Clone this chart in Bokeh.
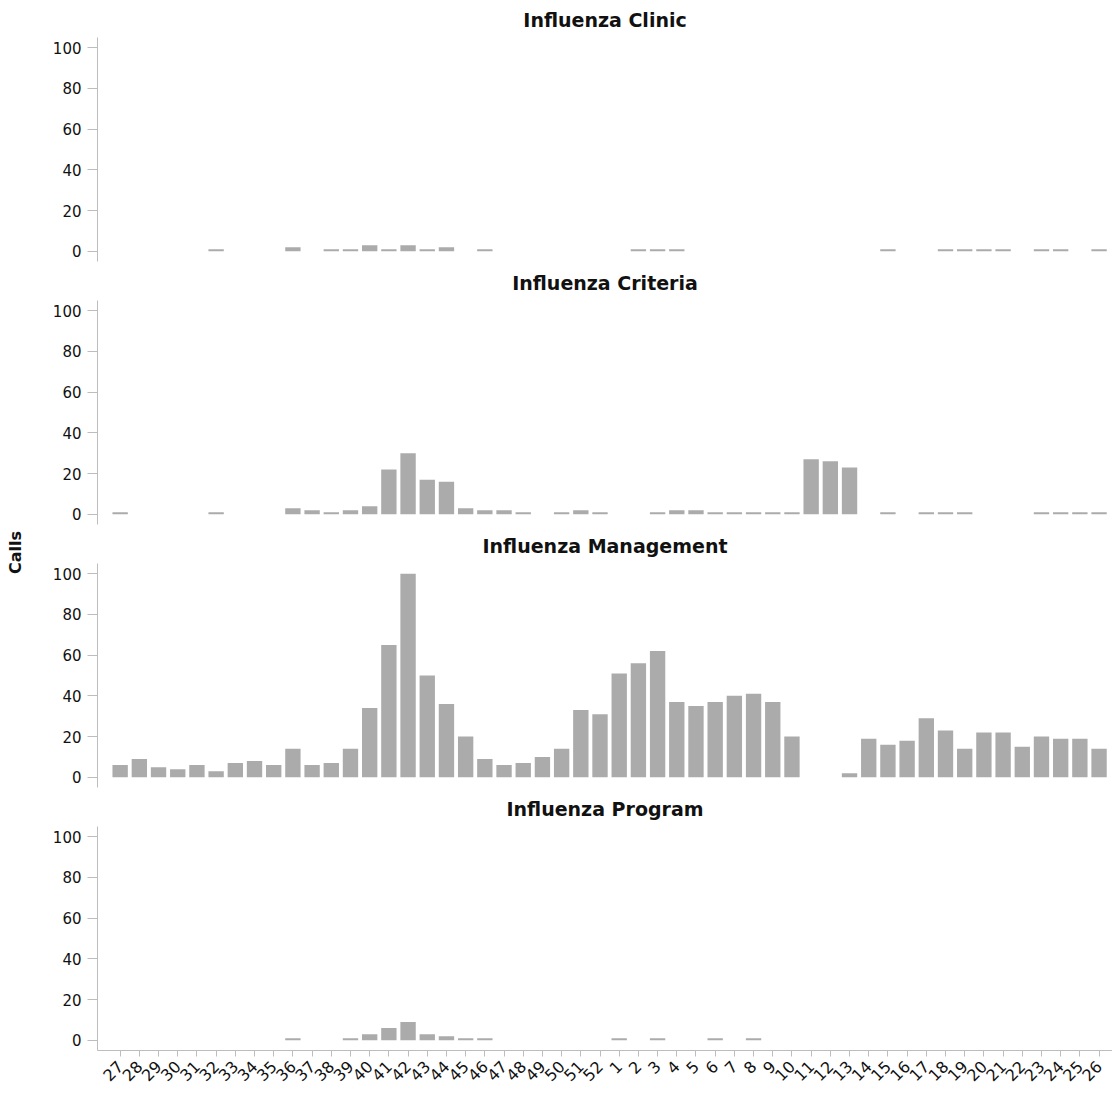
from math import pi
from bokeh.plotting import figure
from bokeh.layouts import row, column
from bokeh.models import Range1d, FixedTicker, Label
from bokeh.embed import file_html
from bokeh.resources import INLINE

# ---- data -------------------------------------------------------------
weeks = ["27", "28", "29", "30", "31", "32", "33", "34", "35", "36", "37", "38", "39",
         "40", "41", "42", "43", "44", "45", "46", "47", "48", "49", "50", "51", "52",
         "1", "2", "3", "4", "5", "6", "7", "8", "9", "10", "11", "12", "13",
         "14", "15", "16", "17", "18", "19", "20", "21", "22", "23", "24", "25", "26"]

clinic = [0, 0, 0, 0, 0, 1, 0, 0, 0, 2, 0, 1, 1, 3, 1, 3, 1, 2, 0, 1, 0, 0, 0, 0, 0, 0,
          0, 1, 1, 1, 0, 0, 0, 0, 0, 0, 0, 0, 0, 0, 1, 0, 0, 1, 1, 1, 1, 0, 1, 1, 0, 1]

criteria = [1, 0, 0, 0, 0, 1, 0, 0, 0, 3, 2, 1, 2, 4, 22, 30, 17, 16, 3, 2, 2, 1, 0, 1, 2, 1,
            0, 0, 1, 2, 2, 1, 1, 1, 1, 1, 27, 26, 23, 0, 1, 0, 1, 1, 1, 0, 0, 0, 1, 1, 1, 1]

management = [6, 9, 5, 4, 6, 3, 7, 8, 6, 14, 6, 7, 14, 34, 65, 100, 50, 36, 20, 9, 6, 7, 10, 14, 33, 31,
              51, 56, 62, 37, 35, 37, 40, 41, 37, 20, 0, 0, 2, 19, 16, 18, 29, 23, 14, 22, 22, 15, 20, 19, 19, 14]

program = [0, 0, 0, 0, 0, 0, 0, 0, 0, 1, 0, 0, 1, 3, 6, 9, 3, 2, 1, 1, 0, 0, 0, 0, 0, 0,
           1, 0, 1, 0, 0, 1, 0, 1, 0, 0, 0, 0, 0, 0, 0, 0, 0, 0, 0, 0, 0, 0, 0, 0, 0, 0]

panel_titles = ["Influenza Clinic", "Influenza Criteria", "Influenza Management", "Influenza Program"]
y_ticks = [0, 20, 40, 60, 80, 100]
y_title = "Calls"

# ---- style --------------------------------------------------------------
FONT = "DejaVu Sans"
BAR = "#ababab"
AXIS = "#bdbdbd"
TEXT = "#111111"
LAB_W = 28
LAB_H = 1095

x_pos = list(range(len(weeks)))
series = [clinic, criteria, management, program]

panels = []
for k, (title, vals) in enumerate(zip(panel_titles, series)):
    last = k == len(series) - 1
    p = figure(frame_width=1015, frame_height=224,
               x_range=Range1d(-1.18, len(weeks) - 0.3),
               y_range=Range1d(-5, 105),
               output_backend="svg", toolbar_location=None, title=title,
               min_border_left=97 - LAB_W, min_border_right=0, min_border_top=0,
               min_border_bottom=(0 if last else 2))
    p.vbar(x=x_pos, top=vals, width=0.8, fill_color=BAR, line_color=None)

    p.title.text_font = FONT
    p.title.text_font_size = "19px"
    p.title.text_font_style = "bold"
    p.title.text_color = TEXT
    p.title.align = "center"
    p.title.standoff = 13

    p.xgrid.visible = False
    p.ygrid.visible = False
    p.outline_line_color = None
    p.background_fill_color = "white"
    p.border_fill_color = "white"

    yax = p.yaxis[0]
    yax.ticker = FixedTicker(ticks=y_ticks)
    yax.minor_tick_line_color = None
    yax.major_tick_out = 10
    yax.major_tick_in = 0
    yax.major_label_standoff = 6
    yax.axis_line_color = AXIS
    yax.major_tick_line_color = AXIS
    yax.major_label_text_font = FONT
    yax.major_label_text_font_size = "15px"
    yax.major_label_text_color = TEXT

    xax = p.xaxis[0]
    if last:
        xax.ticker = FixedTicker(ticks=x_pos)
        xax.major_label_overrides = {i: w for i, w in enumerate(weeks)}
        xax.major_label_orientation = pi / 4
        xax.minor_tick_line_color = None
        xax.major_tick_out = 6
        xax.major_tick_in = 0
        xax.major_label_standoff = 7
        xax.axis_line_color = AXIS
        xax.major_tick_line_color = AXIS
        xax.major_label_text_font = FONT
        xax.major_label_text_font_size = "16px"
        xax.major_label_text_color = TEXT
    else:
        xax.visible = False
    panels.append(p)

# left strip carrying the shared y-axis title
lab = figure(width=LAB_W, height=LAB_H, output_backend="svg", toolbar_location=None,
             min_border=0, x_range=Range1d(0, 1), y_range=Range1d(0, 1))
lab.axis.visible = False
lab.grid.visible = False
lab.outline_line_color = None
lab.add_layout(Label(x=15, y=LAB_H - 552, x_units="screen", y_units="screen", text=y_title,
                     angle=pi / 2, text_align="center", text_baseline="middle",
                     text_font=FONT, text_font_size="16px", text_font_style="bold",
                     text_color=TEXT))

layout = row(lab, column(*panels))

open("out.html", "w").write(file_html(layout, INLINE))
